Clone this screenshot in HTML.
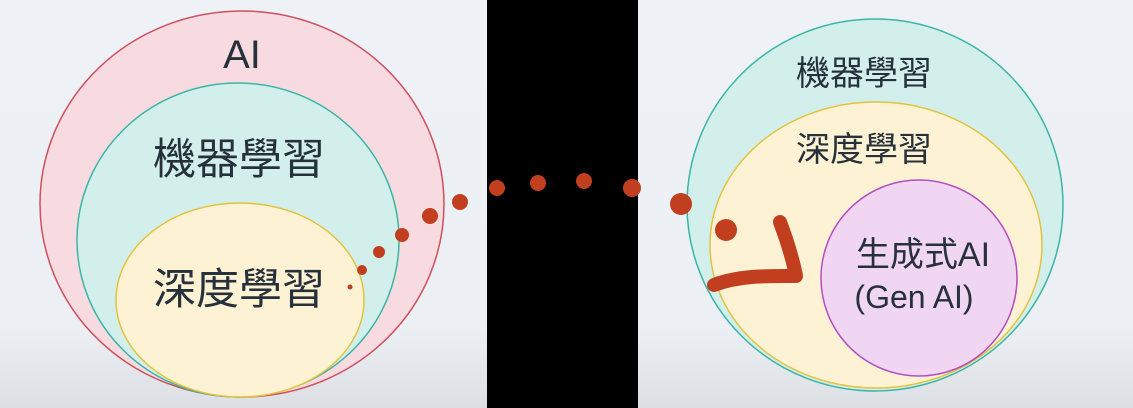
<!DOCTYPE html>
<html><head><meta charset="utf-8"><style>
html,body{margin:0;padding:0;width:1133px;height:408px;overflow:hidden}
svg{display:block}
text{font-family:"Liberation Sans","Noto Sans CJK TC",sans-serif;fill:#27313c;text-anchor:middle;dominant-baseline:central}
</style></head><body>
<svg width="1133" height="408">
<defs><linearGradient id="bg" x1="0" y1="0" x2="0" y2="1">
<stop offset="0" stop-color="#eef2f7"/><stop offset="0.8" stop-color="#eceff3"/><stop offset="1" stop-color="#dcdfe3"/></linearGradient></defs>
<rect width="1133" height="408" fill="url(#bg)"/>
<rect x="487" y="0" width="151" height="408" fill="#000"/>
<g>
<ellipse cx="242" cy="204" rx="202" ry="193" fill="#f8dbe0" stroke="#d0505e" stroke-width="1.5"/>
<ellipse cx="238" cy="240" rx="161" ry="157" fill="#d3efec" stroke="#3bb5a6" stroke-width="1.5"/>
<ellipse cx="240" cy="300" rx="124" ry="97" fill="#fdf3d4" stroke="#e3c240" stroke-width="1.5"/>
<text x="242" y="55" font-size="40">AI</text>
<text x="239" y="160" font-size="43">機器學習</text>
<text x="239" y="290" font-size="43">深度學習</text>
</g>
<g>
<ellipse cx="875" cy="205" rx="188" ry="186" fill="#d3efec" stroke="#3bb5a6" stroke-width="1.5"/>
<ellipse cx="876" cy="245" rx="166" ry="143" fill="#fdf3d4" stroke="#e3c240" stroke-width="1.5"/>
<circle cx="919" cy="278" r="98" fill="#f0d6f3" stroke="#b34fc0" stroke-width="1.5"/>
<text x="864" y="74" font-size="34">機器學習</text>
<text x="864" y="150" font-size="34">深度學習</text>
<text x="923" y="255" font-size="34">生成式AI</text>
<text x="914" y="297" font-size="32">(Gen AI)</text>
</g>
<g fill="#c13f1f">
<circle cx="350" cy="287" r="2.5"/><circle cx="362" cy="270" r="5"/><circle cx="379" cy="252" r="6"/>
<circle cx="402" cy="235" r="7"/><circle cx="430" cy="216" r="8"/><circle cx="460" cy="202" r="8"/>
<circle cx="497" cy="188" r="8"/><circle cx="538" cy="183" r="8"/><circle cx="584" cy="181" r="8"/>
<circle cx="632" cy="188" r="9"/><circle cx="681" cy="204" r="11"/><circle cx="726" cy="230" r="11"/>
<path d="M714 285 C740 275 770 276 796 276 C792 255 786 238 780 222" fill="none" stroke="#c13f1f" stroke-width="14" stroke-linecap="round" stroke-linejoin="round"/>
</g>
</svg>
</body></html>
